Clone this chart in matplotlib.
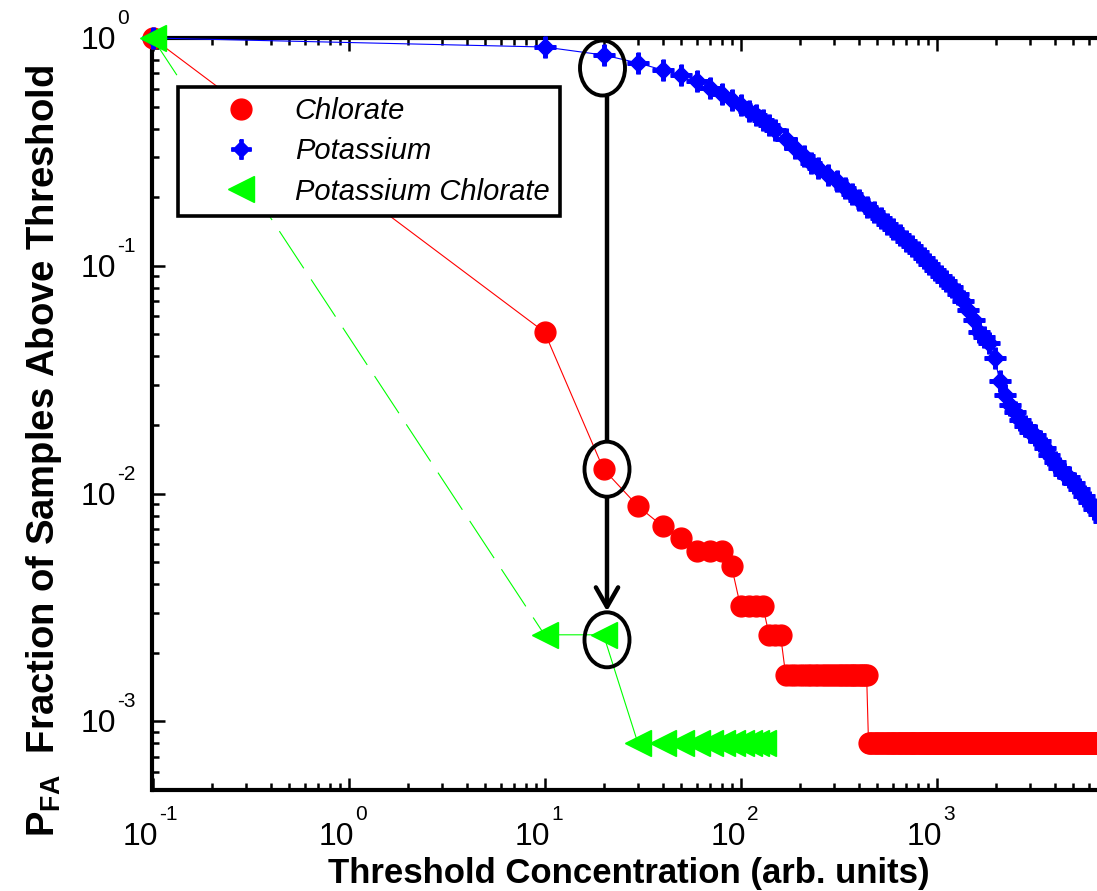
import numpy as np
import matplotlib
matplotlib.use("Agg")
import matplotlib.pyplot as plt
from matplotlib.lines import Line2D
from matplotlib.patches import Ellipse, FancyArrowPatch
from matplotlib.ticker import LogLocator, NullFormatter
from matplotlib.transforms import IdentityTransform, blended_transform_factory, offset_copy

plt.rcParams["font.family"] = ["Liberation Sans", "DejaVu Sans"]
plt.rcParams["mathtext.fontset"] = "custom"
plt.rcParams["mathtext.rm"] = "Liberation Sans"
plt.rcParams["mathtext.bf"] = "Liberation Sans:bold"
plt.rcParams["mathtext.it"] = "Liberation Sans:italic"

# Chlorate: fraction of samples above threshold
chlorate_x = [0.1, 10, 20, 30, 40, 50, 60, 70, 80, 90, 100, 110, 120, 130, 140, 150, 160]
chlorate_y = [1.0, 0.0512, 0.0128, 0.0088, 0.0072, 0.0064, 0.0056, 0.0056, 0.0056, 0.0048,
              0.0032, 0.0032, 0.0032, 0.0032, 0.0024, 0.0024, 0.0024]
# flat tail of the chlorate curve: (first threshold, last threshold, level)
chlorate_tail = [(170, 440, 0.0016), (450, 10000, 0.0008)]

# Potassium
potassium_x = [0.1, 10, 20, 30, 40, 50, 60, 70, 80, 90, 100, 110, 120, 130, 140, 150, 170, 190,
               210, 230, 250, 280, 310, 340, 370, 400, 440, 480, 520, 560, 600, 650, 700, 750,
               800, 860, 920, 980, 1050, 1120, 1200, 1280, 1360, 1450, 1550, 1650, 1750, 1860,
               1980, 2100, 2230, 2370, 2510, 2660, 2820, 2990, 3170, 3360, 3560, 3770, 4000,
               4240, 4490, 4760, 5040, 5340, 5660, 6000, 6360, 6740, 7140]
potassium_y = [1.0, 0.913, 0.842, 0.777, 0.724, 0.688, 0.648, 0.606, 0.568, 0.535, 0.508, 0.478,
               0.457, 0.435, 0.413, 0.393, 0.359, 0.328, 0.304, 0.284, 0.269, 0.251, 0.235,
               0.219, 0.206, 0.195, 0.181, 0.172, 0.162, 0.153, 0.145, 0.137, 0.129, 0.122,
               0.115, 0.108, 0.1015, 0.0960, 0.0904, 0.0859, 0.0804, 0.0754, 0.0702, 0.0641,
               0.0580, 0.0513, 0.0488, 0.0459, 0.0395, 0.0313, 0.0272, 0.0246, 0.0229, 0.0211,
               0.0199, 0.0187, 0.0180, 0.0171, 0.0159, 0.0148, 0.0138, 0.0129, 0.0122, 0.0118,
               0.0111, 0.0105, 0.0098, 0.0092, 0.0086, 0.0081, 0.0076]

# Potassium chlorate
kclo3_x = [0.1, 10, 20, 30, 40, 50, 60, 70, 80, 90, 100, 110, 120, 130]
kclo3_y = [1.0, 0.0024, 0.0024, 0.0008, 0.0008, 0.0008, 0.0008, 0.0008, 0.0008, 0.0008,
           0.0008, 0.0008, 0.0008, 0.0008]

labels = ["Chlorate", "Potassium", "Potassium Chlorate"]
x_decades = [-1, 0, 1, 2, 3]
y_decades = [0, -1, -2, -3]

RED = (1, 0, 0)
BLUE = (0, 0, 1)
GREEN = (0, 1, 0)

# build the full chlorate series
cl_x = list(chlorate_x)
cl_y = list(chlorate_y)
for start, stop, level in chlorate_tail:
    steps = np.arange(start, stop + 1, 10)
    cl_x += list(steps)
    cl_y += [level] * len(steps)

# diamond with small arms, used for potassium
w, d = 0.17, 0.84
plus_diamond = [(-w, 1), (w, 1), (w, d - w), (d - w, w), (1, w), (1, -w), (d - w, -w),
                (w, -(d - w)), (w, -1), (-w, -1), (-w, -(d - w)), (-(d - w), -w), (-1, -w),
                (-1, w), (-(d - w), w), (-w, d - w), (-w, 1)]

W, H = 1097, 891
fig = plt.figure(figsize=(W / 100, H / 100), dpi=100)
ax = fig.add_axes([152.5 / W, 101 / H, 980 / W, 752 / H])
ax.set_xscale("log")
ax.set_yscale("log")
ax.set_xlim(0.1, 1e4)
ax.set_ylim(5e-4, 1.0)

# curves
ax.plot(cl_x, cl_y, color=RED, lw=0.8, marker="o", ms=15, mec=RED, mfc=RED,
        clip_on=False, zorder=3)
ax.plot(potassium_x, potassium_y, color=BLUE, lw=0.8, marker=plus_diamond, ms=15,
        mec=BLUE, mfc=BLUE, clip_on=False, zorder=3)
ax.plot(kclo3_x[:2], kclo3_y[:2], color=GREEN, lw=0.8, dashes=(40, 12), clip_on=False, zorder=3)
ax.plot(kclo3_x[1:], kclo3_y[1:], color=GREEN, lw=0.8, clip_on=False, zorder=3)
ax.plot(kclo3_x, kclo3_y, ls="none", marker="<", ms=19, mec=GREEN, mfc=GREEN,
        clip_on=False, zorder=3)

# axes frame and ticks
for side in ["left", "bottom", "top", "right"]:
    ax.spines[side].set_linewidth(3.0)
ax.xaxis.set_major_locator(LogLocator(base=10, numticks=20))
ax.yaxis.set_major_locator(LogLocator(base=10, numticks=20))
ax.xaxis.set_minor_locator(LogLocator(base=10, subs=np.arange(2, 10), numticks=40))
ax.yaxis.set_minor_locator(LogLocator(base=10, subs=np.arange(2, 10), numticks=40))
ax.xaxis.set_minor_formatter(NullFormatter())
ax.yaxis.set_minor_formatter(NullFormatter())
ax.tick_params(which="both", direction="in", top=True, right=True,
               labelbottom=False, labelleft=False, width=1.8, color="k")
ax.tick_params(which="major", length=9)
ax.tick_params(which="minor", length=5)

# tick labels written as 10 with a small raised exponent
tx = blended_transform_factory(ax.transData, ax.transAxes)
for dec in x_decades:
    ax.text(10.0 ** dec, 0, "10", fontsize=23, ha="right", va="baseline",
            transform=offset_copy(tx, fig=fig, x=6, y=-55, units="dots"))
    ax.text(10.0 ** dec, 0, str(dec), fontsize=15, ha="left", va="baseline",
            transform=offset_copy(tx, fig=fig, x=7, y=-30, units="dots"))
ty = blended_transform_factory(ax.transAxes, ax.transData)
for dec in y_decades:
    ax.text(0, 10.0 ** dec, "10", fontsize=23, ha="right", va="baseline",
            transform=offset_copy(ty, fig=fig, x=-36, y=-11, units="dots"))
    ax.text(0, 10.0 ** dec, str(dec), fontsize=15, ha="left", va="baseline",
            transform=offset_copy(ty, fig=fig, x=-35, y=14, units="dots"))

fig.text(629 / W, 8 / H, "Threshold Concentration (arb. units)", fontsize=25,
         fontweight="bold", ha="center", va="baseline")
fig.text(44 / W, 1 - 451 / H, r"$\mathbf{P}_{\mathbf{FA}}$  Fraction of Samples Above Threshold",
         fontsize=27.5, fontweight="bold", rotation=90, ha="center", va="center")

# legend with marker-only entries
handles = [
    Line2D([], [], ls="none", marker="o", ms=15, mfc=RED, mec=RED),
    Line2D([], [], ls="none", marker=plus_diamond, ms=14, mfc=BLUE, mec=BLUE),
    Line2D([], [], ls="none", marker="<", ms=19, mfc=GREEN, mec=GREEN),
]
leg = ax.legend(handles, labels, loc="upper left", bbox_to_anchor=(0.026, 0.935),
                borderaxespad=0, fancybox=False, framealpha=1, edgecolor="k",
                prop={"family": "Liberation Sans", "style": "italic", "size": 21},
                borderpad=0.35, handlelength=3.6, handletextpad=0.05, labelspacing=0.42)
leg.get_frame().set_linewidth(2.6)

# circled points at threshold 20 and the arrow joining them
ell_w, ell_h = 45, 55
centres = []
for (xv, yv), (dx, dy) in [((20, potassium_y[2]), (-1, -13)),
                           ((20, chlorate_y[2]), (3.5, 0)),
                           ((20, kclo3_y[2]), (3.5, -5))]:
    px, py = ax.transData.transform((xv, yv))
    centres.append((px + dx, py + dy))
    fig.add_artist(Ellipse((px + dx, py + dy), ell_w, ell_h, transform=IdentityTransform(),
                           fill=False, ec="k", lw=2.8, zorder=6))

ax_x = centres[1][0]
seg1 = FancyArrowPatch((ax_x, centres[0][1] - ell_h / 2 - 1), (ax_x, centres[1][1] + ell_h / 2 + 1),
                       arrowstyle="-", lw=3.2, color="k", shrinkA=0, shrinkB=0,
                       transform=IdentityTransform(), zorder=6)
seg2 = FancyArrowPatch((ax_x, centres[1][1] - ell_h / 2 - 1), (ax_x, centres[2][1] + ell_h / 2 + 1),
                       arrowstyle="->,head_length=14,head_width=8", mutation_scale=1, lw=3.2,
                       color="k", shrinkA=0, shrinkB=0, transform=IdentityTransform(), zorder=6)
fig.add_artist(seg1)
fig.add_artist(seg2)

fig.savefig("out.png", dpi=100)
